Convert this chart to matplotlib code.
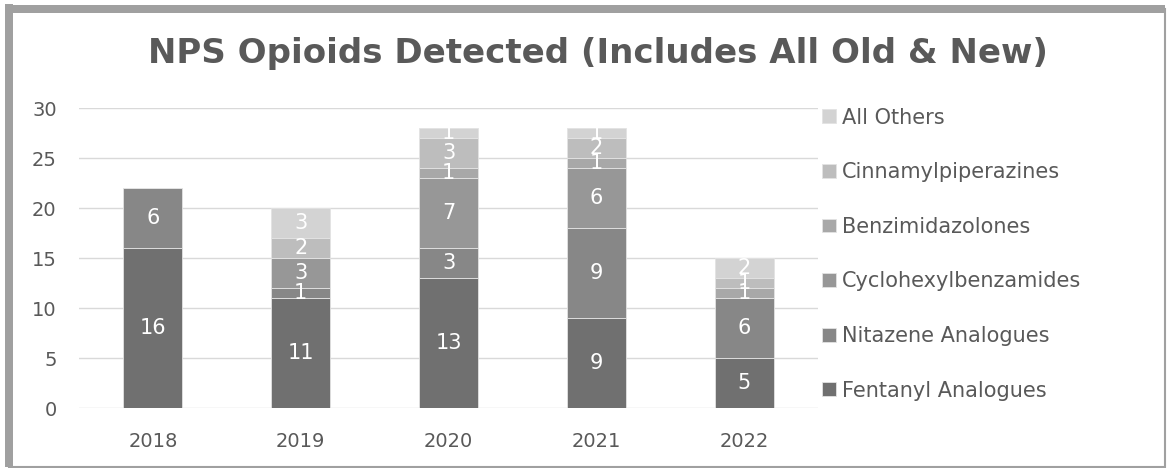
import numpy as np
import matplotlib.pyplot as plt
from matplotlib.patches import Rectangle

# detections per year, by opioid class
years = ['2018', '2019', '2020', '2021', '2022']
fentanyl = [16, 11, 13, 9, 5]
nitazene = [6, 1, 3, 9, 6]
cyclohexyl = [0, 3, 7, 6, 0]
benzimidazolones = [0, 0, 1, 1, 1]
cinnamyl = [0, 2, 3, 2, 1]
others = [0, 3, 1, 1, 2]

series = [
    ('Fentanyl Analogues', fentanyl, '#707070'),
    ('Nitazene Analogues', nitazene, '#878787'),
    ('Cyclohexylbenzamides', cyclohexyl, '#979797'),
    ('Benzimidazolones', benzimidazolones, '#a8a8a8'),
    ('Cinnamylpiperazines', cinnamyl, '#bdbdbd'),
    ('All Others', others, '#d3d3d3'),
]

plt.rcParams['font.family'] = ['DejaVu Sans']
txt = '#595959'

fig = plt.figure(figsize=(11.68, 4.68), dpi=100)
ax = fig.add_axes([0.0676, 0.128, 0.633, 0.641])

x = np.arange(len(years))
bottom = np.zeros(len(years))
handles = []
for name, vals, col in series:
    vals = np.array(vals, dtype=float)
    bars = ax.bar(x, vals, 0.4, bottom=bottom, color=col, edgecolor='#e3e3e3',
                  linewidth=0.6, label=name, zorder=3)
    handles.append(bars)
    for xi, b, v in zip(x, bottom, vals):
        if v > 0:
            ax.text(xi, b + v / 2, f'{int(v)}', ha='center', va='center',
                    color='white', fontsize=15, zorder=4)
    bottom += vals

ax.set_xlim(-0.5, 4.5)
ax.set_ylim(0, 30)
ax.set_yticks(range(0, 31, 5))
ax.set_xticks(x)
ax.set_xticklabels(years)
ax.tick_params(length=0, labelsize=14, colors=txt)
ax.tick_params(axis='x', pad=17)
ax.tick_params(axis='y', pad=16)
ax.grid(axis='y', color='#d9d9d9', linewidth=1, zorder=0)
for s in ax.spines.values():
    s.set_visible(False)

leg = fig.legend(handles[::-1], [s[0] for s in series][::-1],
                 loc='upper left', bbox_to_anchor=(0.688, 0.81),
                 frameon=False, fontsize=15, labelcolor=txt,
                 handlelength=0.65, handleheight=0.65, handletextpad=0.3,
                 labelspacing=1.66)

fig.suptitle('NPS Opioids Detected (Includes All Old & New)', x=0.512, y=0.92,
             fontsize=24.5, fontweight='bold', color=txt)

# outer frame of the chart
fig.patches.append(Rectangle((0.0075, 0.002), 0.99, 0.978, transform=fig.transFigure,
                             fill=False, edgecolor='#a0a0a0', linewidth=1.5))
fig.patches.append(Rectangle((0.0045, 0.002), 0.0065, 0.99, transform=fig.transFigure,
                             color='#a0a0a0', linewidth=0))
fig.patches.append(Rectangle((0.0045, 0.972), 0.993, 0.0175, transform=fig.transFigure,
                             color='#a0a0a0', linewidth=0))

fig.savefig('out.png', dpi=100)
